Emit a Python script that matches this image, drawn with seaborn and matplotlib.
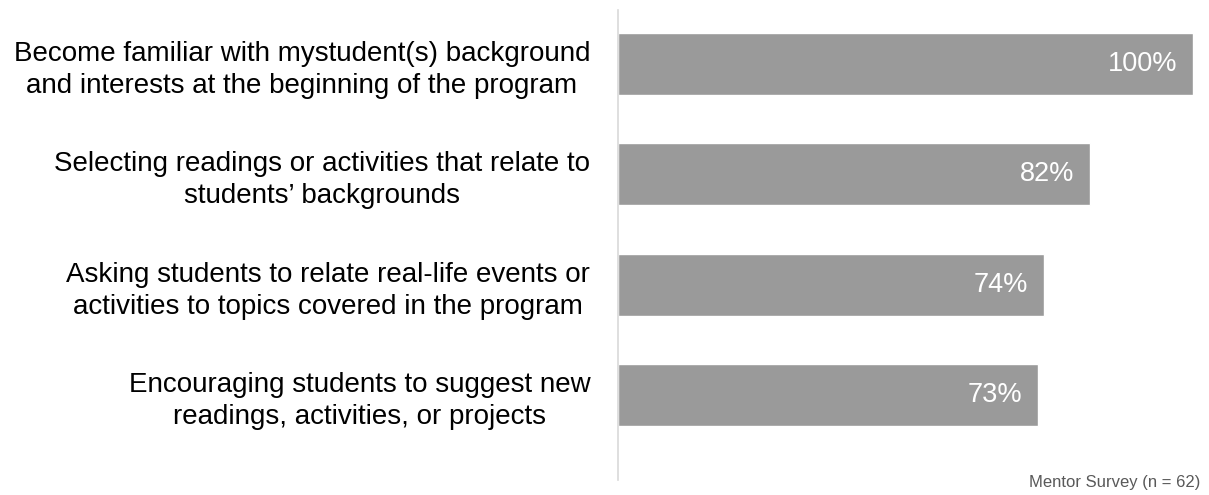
import matplotlib
matplotlib.use("Agg")
import matplotlib.pyplot as plt
import seaborn as sns
import pandas as pd

categories = [
    "Become familiar with mystudent(s) background\nand interests at the beginning of the program",
    "Selecting readings or activities that relate to\nstudents\u2019 backgrounds",
    "Asking students to relate real-life events or\nactivities to topics covered in the program",
    "Encouraging students to suggest new\nreadings, activities, or projects",
]
values = [100, 82, 74, 73]
source_note = "Mentor Survey (n = 62)"

sns.set_theme(style="white")
plt.rcParams["font.family"] = ["Liberation Sans", "DejaVu Sans"]

df = pd.DataFrame({"item": categories, "pct": values})

fig = plt.figure(figsize=(12.09, 4.95), dpi=100)
ax = fig.add_axes([618 / 1209, 1 - 480 / 495, (1193 - 618) / 1209, 470 / 495])

sns.barplot(data=df, x="pct", y="item", orient="h", color="#9a9a9a",
            saturation=1, width=0.56, ax=ax)

ax.set_xlim(0, 100)
ax.set_ylim(3.77, -0.49)
ax.set_xlabel("")
ax.set_ylabel("")
ax.set_xticks([])
ax.tick_params(axis="y", length=0, pad=20)
for lab in ax.get_yticklabels():
    lab.set_fontsize(20)
    lab.set_color("#000000")
    lab.set_multialignment("center")
    lab.set_linespacing(1.3)

for s in ["top", "right", "bottom"]:
    ax.spines[s].set_visible(False)
ax.spines["left"].set_color("#d9d9d9")
ax.spines["left"].set_linewidth(1.2)

for i, v in enumerate(values):
    ax.text(v - 2.7, i, f"{v}%", ha="right", va="center",
            color="white", fontsize=19.5)

fig.text(1200 / 1209, 1 - 483 / 495, source_note, ha="right", va="center",
         fontsize=12, color="#595959")

fig.savefig("out.png", dpi=100)
